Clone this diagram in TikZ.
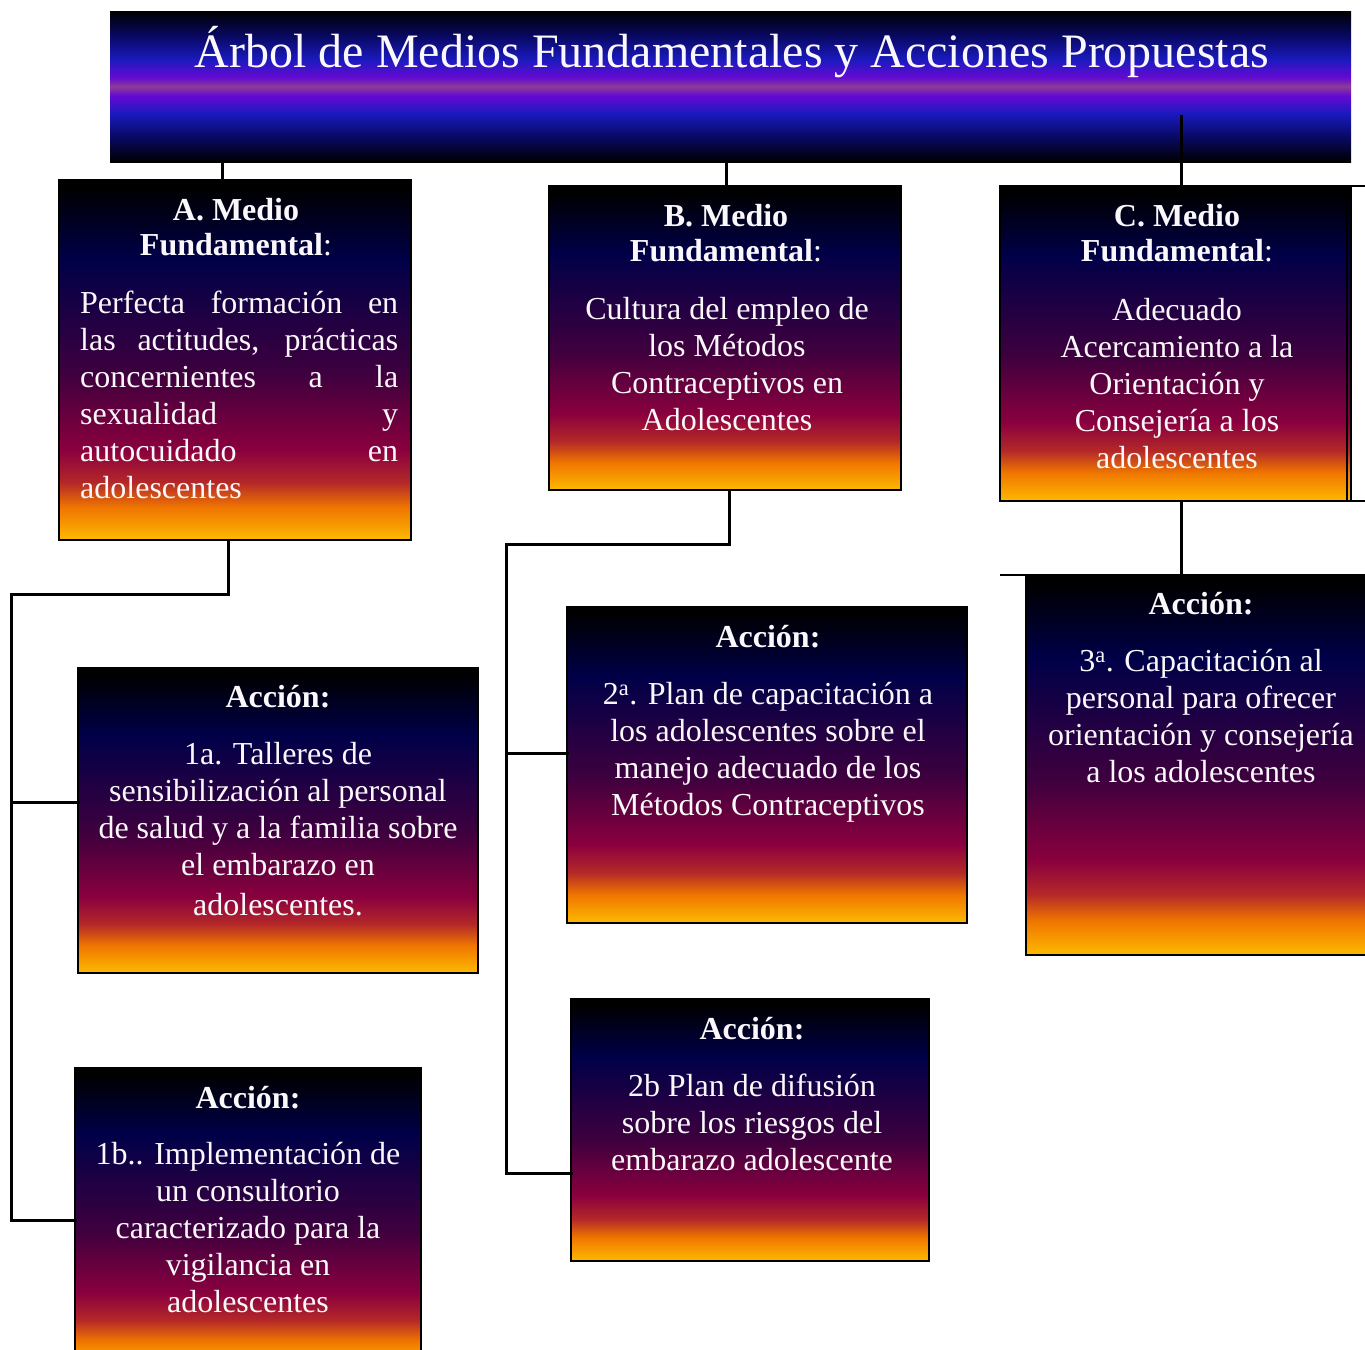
\documentclass[tikz,border=0pt]{standalone}
\usepackage{fontspec}
\setmainfont{Liberation Serif}
\definecolor{sYel}{RGB}{253,186,0}
\definecolor{sOra}{RGB}{240,118,0}
\definecolor{sRed}{RGB}{180,40,40}
\definecolor{sCrim}{RGB}{138,0,62}
\definecolor{sPurp}{RGB}{62,0,62}
\definecolor{sNavy}{RGB}{0,0,72}
\definecolor{tNavy}{RGB}{8,8,96}
\definecolor{tBlue}{RGB}{26,26,190}
\definecolor{tViol}{RGB}{100,10,210}
\definecolor{tPink}{RGB}{140,60,150}
\definecolor{txtW}{RGB}{250,248,250}
\pgfdeclareverticalshading{sunset}{100bp}{color(0bp)=(sYel); color(25bp)=(sYel); color(29.5bp)=(sOra); color(33bp)=(sRed); color(37.5bp)=(sCrim); color(48bp)=(sPurp); color(64bp)=(sNavy); color(74bp)=(black); color(100bp)=(black)}
\pgfdeclareverticalshading{titlesh}{100bp}{color(0bp)=(black); color(25bp)=(black); color(33bp)=(tNavy); color(41bp)=(tBlue); color(47bp)=(tViol); color(50bp)=(tPink); color(53bp)=(tViol); color(59bp)=(tBlue); color(67bp)=(tNavy); color(75bp)=(black); color(100bp)=(black)}
\newcommand\firststrut{\rule{0pt}{30pt}}
\begin{document}
\begin{tikzpicture}[x=1pt,y=-1pt,
  box/.style={draw=black, line width=2pt, shading=sunset, anchor=north west, inner sep=0pt, outer sep=0pt},
  titlebox/.style={shading=titlesh, inner sep=0pt, outer sep=0pt},
  conn/.style={line width=3pt, line join=miter, line cap=rect},
  thin/.style={line width=2pt},
  hd/.style={text=txtW, align=center, inner sep=0pt, font=\fontsize{32}{35}\selectfont, anchor=north},
  bd/.style={text=txtW, align=center, inner sep=0pt, font=\fontsize{32}{37}\selectfont, anchor=north},
  acc/.style={text=txtW, inner sep=0pt, font=\fontsize{32}{37}\selectfont\bfseries, anchor=base},
  tt/.style={text=txtW, inner sep=0pt, font=\fontsize{48}{56}\selectfont, anchor=base}]
\clip (0,0) rectangle (1365,1349);
% title
\node[titlebox, minimum width=1241pt, minimum height=151pt] (title) at (730.5,86.5) {};
% boxes
\node[box, minimum width=352pt, minimum height=360pt] (A) at (59,180) {};
\node[box, minimum width=352pt, minimum height=304pt] (B) at (549,186) {};
\node[box, minimum width=351pt, minimum height=315pt] (C) at (1000,186) {};
\node[box, minimum width=400pt, minimum height=305pt] (a1a) at (78,668) {};
\node[box, minimum width=346pt, minimum height=300pt] (a1b) at (75,1068) {};
\node[box, minimum width=400pt, minimum height=316pt] (a2a) at (567,607) {};
\node[box, minimum width=358pt, minimum height=262pt] (a2b) at (571,999) {};
\node[box, minimum width=360pt, minimum height=380pt] (a3) at (1026,575) {};
% extra lines around C
\draw[thin] ([xshift=-4pt]C.north east) -- ([xshift=-4pt]C.south east);
\coordinate (cR1) at (1365,186);
\coordinate (cR2) at (1365,501);
\coordinate (cL3) at (1000,575);
\draw[thin] (C.north east) -- (cR1);
\draw[thin] (C.south east) -- (cR2);
\draw[thin] (cL3) -- (a3.north west);
% connectors from title
\draw[conn] ([xshift=-13pt]A.north) -- ([xshift=-13pt]A.north |- title.south);
\draw[conn] ([xshift=1pt]B.north) -- ([xshift=1pt]B.north |- title.south);
\coordinate (cT) at (1181,116);
\draw[conn] (cT) -- ([xshift=5.5pt]C.north);
% A branch
\coordinate (jA1) at (228,594);
\coordinate (jA2) at (11,594);
\coordinate (jA3) at (11,1220);
\coordinate (jA4) at (11,802);
\draw[conn] ([xshift=-7pt]A.south) -- (jA1) -- (jA2) -- (jA3) -- (a1b.west |- jA3);
\draw[conn] (jA4) -- (a1a.west |- jA4);
% B branch
\coordinate (jB1) at (729,544);
\coordinate (jB2) at (506,544);
\coordinate (jB3) at (506,1173);
\coordinate (jB4) at (506,753);
\draw[conn] ([xshift=4pt]B.south) -- (jB1) -- (jB2) -- (jB3) -- (a2b.west |- jB3);
\draw[conn] (jB4) -- (a2a.west |- jB4);
% C branch
\draw[conn] ([xshift=5.5pt]C.south) -- ([xshift=5.5pt]C.south |- a3.north);
% texts
\node[tt] (ttext) at (732,67) {Árbol de Medios Fundamentales y Acciones Propuestas};
\node[hd] (Ah) at (236,190) {\firststrut\textbf{A. Medio}\\\textbf{Fundamental}:};
\node[bd, anchor=north west, align=left] (Ab) at (80,283) {\firststrut\makebox[318pt][s]{Perfecta formación en}\\
\makebox[318pt][s]{las actitudes, prácticas}\\
\makebox[318pt][s]{concernientes a la}\\
\makebox[318pt][s]{sexualidad y}\\
\makebox[318pt][s]{autocuidado en}\\
adolescentes};
\node[hd] (Bh) at (726,196) {\firststrut\textbf{B. Medio}\\\textbf{Fundamental}:};
\node[bd] (Bb) at (727,289) {\firststrut Cultura del empleo de\\los Métodos\\Contraceptivos en\\Adolescentes};
\node[hd] (Ch) at (1177,196) {\firststrut\textbf{C. Medio}\\\textbf{Fundamental}:};
\node[bd] (Cb) at (1177,290) {\firststrut Adecuado\\Acercamiento a la\\Orientación y\\Consejería a los\\adolescentes};
\node[acc] (a1ah) at (278,707) {Acción:};
\node[bd] (a1ab) at (278,734) {\firststrut 1a. Talleres de\\sensibilización al personal\\de salud y a la familia sobre\\el embarazo en\\[3pt]adolescentes.};
\node[acc] (a1bh) at (248,1108) {Acción:};
\node[bd] (a1bb) at (248,1134) {\firststrut 1b.. Implementación de\\un consultorio\\caracterizado para la\\vigilancia en\\adolescentes};
\node[acc] (a2ah) at (768,647) {Acción:};
\node[bd] (a2ab) at (768,674) {\firststrut 2\textsuperscript{a}. Plan de capacitación a\\los adolescentes sobre el\\manejo adecuado de los\\Métodos Contraceptivos};
\node[acc] (a2bh) at (752,1039) {Acción:};
\node[bd] (a2bb) at (752,1066) {\firststrut 2b Plan de difusión\\sobre los riesgos del\\embarazo adolescente};
\node[acc] (a3h) at (1201,614) {Acción:};
\node[bd] (a3b) at (1201,641) {\firststrut 3\textsuperscript{a}. Capacitación al\\personal para ofrecer\\orientación y consejería\\a los adolescentes};
\end{tikzpicture}
\end{document}
